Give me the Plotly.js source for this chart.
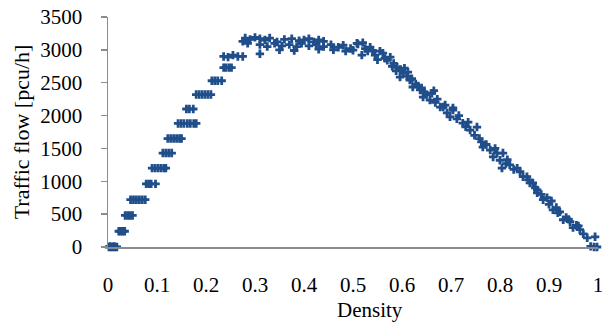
<!DOCTYPE html>
<html>
<head>
<meta charset="utf-8">
<script src="https://cdn.plot.ly/plotly-3.0.1.min.js"></script>
<style>html,body{margin:0;padding:0;background:#fff;}#chart{width:603px;height:327px;}</style>
</head>
<body>
<div id="chart"></div>
<script>
// Free-flow branch (density, flow)
const densityFree = [
  0.002,0.006,0.010,0.014,0.018,0.004,0.012,
  0.022,0.026,0.030,0.034,
  0.035,0.040,0.045,0.050,
  0.046,0.052,0.058,0.064,0.070,0.076,
  0.078,0.083,0.088,0.097,
  0.090,0.096,0.102,0.108,0.114,0.118,
  0.112,0.118,0.124,0.130,
  0.122,0.128,0.134,0.140,0.146,0.150,
  0.143,0.149,0.155,0.162,0.168,0.175,0.180,
  0.160,0.166,0.174,
  0.180,0.186,0.192,0.198,0.204,0.210,
  0.212,0.218,0.224,0.232,
  0.236,0.241,0.247,0.252,
  0.236,0.245,0.255,0.265,0.275
];
const flowFree = [
  0,0,0,0,0,10,10,
  240,240,240,240,
  480,480,480,480,
  720,720,720,720,720,720,
  960,960,960,960,
  1200,1200,1200,1200,1200,1200,
  1430,1430,1430,1430,
  1650,1650,1650,1650,1650,1650,
  1880,1880,1880,1880,1880,1880,1880,
  2100,2100,2100,
  2320,2320,2320,2320,2320,2320,
  2530,2530,2530,2530,
  2730,2730,2730,2730,
  2900,2890,2920,2900,2900
];
// Capacity region
const densityTop = [
  0.275,0.280,0.290,0.300,0.310,0.320,0.330,0.345,0.360,0.375,0.390,0.400,0.410,0.420,0.430,0.440,
  0.285,0.310,0.325,0.340,0.355,0.370,0.385,0.395,0.410,0.425,0.440,0.455,0.470,0.480,0.495,0.510,0.520,
  0.310,0.350,0.380,0.430,0.460,0.485
];
const flowTop = [
  3130,3180,3160,3190,3170,3150,3180,3120,3160,3170,3140,3150,3170,3120,3150,3130,
  3100,3080,3050,3100,3060,3080,3050,3100,3060,3090,3050,3080,3040,3070,3020,3090,3110,
  2940,3000,2990,3010,3000,2980
];
// Congested branch
const densityCong = [
  0.500,0.508,0.518,0.530,0.535,0.545,0.555,0.561,0.570,0.576,0.583,0.590,0.597,0.602,0.596,0.610,
  0.616,0.622,0.628,0.637,0.643,0.650,0.661,0.657,0.668,0.678,0.684,0.692,0.698,0.704,0.704,0.712,
  0.724,0.730,0.739,0.753,0.748,0.758,0.765,0.772,0.780,0.786,0.794,0.806,0.800,0.804,0.812,0.820,
  0.828,0.841,0.847,0.855,0.861,0.867,0.872,0.876,0.876,0.888,0.896,0.900,0.908,0.915,0.922,0.929,
  0.935,0.943,0.949,0.956,0.963,0.970,0.978,0.994,0.985,0.992,0.998,
  0.540,0.565,0.588,0.605,0.620,0.633,0.646,0.672,0.688,0.716,0.735,0.762,0.790,0.815,0.835,0.858,
  0.884,0.905,0.918,0.940,0.960,
  0.525,0.550,0.580,0.612,0.640,0.665
];
const flowCong = [
  2995,3100,2920,2980,3040,2920,2980,2950,2840,2890,2795,2735,2700,2645,2585,2600,
  2540,2435,2480,2390,2280,2320,2340,2235,2200,2130,2130,2040,1980,2085,2115,1950,
  1885,1830,1780,1825,1700,1650,1520,1560,1475,1370,1430,1430,1320,1200,1270,1250,
  1180,1145,1070,1070,975,975,900,870,825,720,750,650,565,600,535,415,
  450,385,295,330,265,200,140,155,10,0,0,
  2990,2870,2680,2720,2560,2450,2350,2250,2160,2000,1900,1600,1500,1330,1200,1020,
  800,700,520,420,320,
  3020,2850,2750,2660,2420,2380
];
const xTicks = [0,0.1,0.2,0.3,0.4,0.5,0.6,0.7,0.8,0.9,1];
const xTickText = ['0','0.1','0.2','0.3','0.4','0.5','0.6','0.7','0.8','0.9','1'];
const yTicks = [0,500,1000,1500,2000,2500,3000,3500];

const xs = densityFree.concat(densityTop, densityCong);
const ys = flowFree.concat(flowTop, flowCong);

const SERIF = 'Times New Roman, Liberation Serif, serif';
function f(size) { return {family: SERIF, size: size, color: '#000'}; }

Plotly.newPlot('chart', [{
  type: 'scatter', mode: 'markers', x: xs, y: ys, cliponaxis: false,
  marker: {symbol: 'cross', size: 7, color: '#1f4e8a'}
}], {
  width: 603, height: 327,
  margin: {l: 108, r: 5, t: 17, b: 80},
  paper_bgcolor: '#fff', plot_bgcolor: '#fff',
  font: f(21),
  showlegend: false,
  xaxis: {
    range: [0, 1], tickvals: xTicks, ticktext: xTickText,
    showgrid: false, zeroline: false, showline: true, linecolor: '#8c8c8c', linewidth: 1.5,
    ticks: '', ticklabelstandoff: 18, ticklabeloverflow: 'allow', tickfont: f(21)
  },
  yaxis: {
    range: [0, 3500], tickvals: yTicks,
    showgrid: false, zeroline: false, showline: true, linecolor: '#8c8c8c', linewidth: 1.5,
    ticks: 'outside', ticklen: 6, tickcolor: '#8c8c8c', tickwidth: 1.5, ticklabelstandoff: 14, tickfont: f(21),
    title: {text: 'Traffic flow [pcu/h]', font: f(22), standoff: 4}
  },
  annotations: [{
    text: 'Density', xref: 'paper', yref: 'paper', x: 0.535, y: -0.272,
    xanchor: 'center', yanchor: 'middle', showarrow: false, font: f(21)
  }]
}, {displayModeBar: false, staticPlot: true});
</script>
</body>
</html>
